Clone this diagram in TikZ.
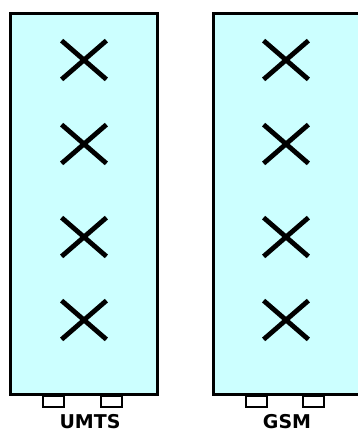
\documentclass[tikz,border=0pt]{standalone}
\usepackage{fontspec}
\setmainfont{DejaVu Sans}
\usetikzlibrary{shapes.misc}
\definecolor{boardcyan}{RGB}{204,255,255}

\tikzset{
  board/.style={draw, fill=boardcyan, line width=3.5pt, rectangle, inner sep=0pt,
    minimum width=147pt, minimum height=381pt},
  slot/.style={draw, fill=white, line width=2pt, rectangle, inner sep=0pt,
    minimum width=21pt, minimum height=11pt},
  xmark/.style={cross out, draw, line width=4.8pt, inner sep=0pt,
    minimum width=40pt, minimum height=34pt},
  boardlabel/.style={font=\fontsize{19}{21}\selectfont\bfseries, anchor=base, inner sep=0pt}
}

\begin{document}
\begin{tikzpicture}[x=1pt, y=-1pt]
\useasboundingbox (0,0) rectangle (357,432);

% connectors under the boards
\node[slot] (umtsa) at (53.5, 401.5) {};
\node[slot] (umtsb) at (111.5, 401.5) {};
\node[slot] (gsma) at (256, 401.5) {};
\node[slot] (gsmb) at (313.5, 401.5) {};

% boards
\node[board] (umts) at (84, 204) {};
\node[board] (gsm) at (287, 204) {};

% crossed-out units
\foreach \i/\y in {1/60, 2/144, 3/237, 4/320} {
  \node[xmark] (umtsx\i) at (84, \y) {};
  \node[xmark] (gsmx\i) at (286, \y) {};
}

\node[boardlabel] (umtslabel) at (90, 428.5) {UMTS};
\node[boardlabel] (gsmlabel) at (287, 428.5) {GSM};

\end{tikzpicture}
\end{document}
